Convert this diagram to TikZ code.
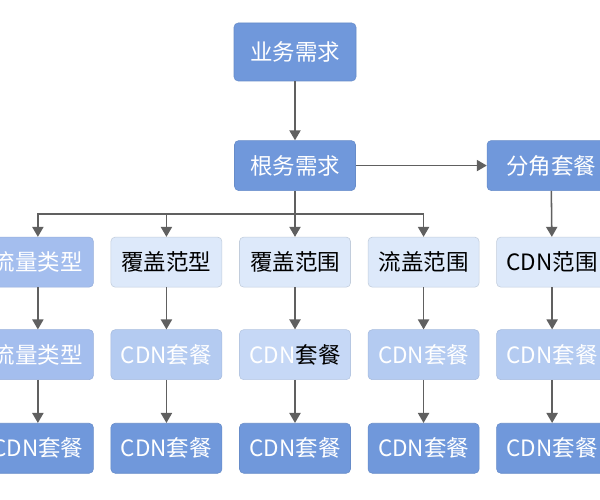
\documentclass[tikz,border=0pt]{standalone}
\usepackage{fontspec}
\newfontfamily\cjk{Noto Sans CJK SC}
\usetikzlibrary{arrows.meta,positioning,calc}

\definecolor{deepblue}{RGB}{112,152,219}
\definecolor{midblue}{RGB}{164,190,238}
\definecolor{softblue}{RGB}{180,203,241}
\definecolor{haze}{RGB}{198,216,246}
\definecolor{paleblue}{RGB}{221,233,250}
\definecolor{linegray}{RGB}{96,96,96}

\begin{document}
\begin{tikzpicture}[
  box/.style={rounded corners=3pt, align=center, minimum width=2.775cm, minimum height=1.25cm, inner sep=0pt, font=\cjk\fontsize{16}{19}\selectfont},
  dark/.style={box, fill=deepblue, draw=deepblue!92!black, text=white},
  mid/.style={box, fill=midblue, draw=midblue!92!black, text=white},
  soft/.style={box, fill=softblue, draw=softblue!92!black, text=white},
  hazy/.style={box, fill=haze, draw=haze!92!black, text=white},
  pale/.style={box, fill=paleblue, draw=paleblue!88!black, text=black},
  arr/.style={-{Triangle[length=2.5mm,width=2.8mm]}, line width=1.1pt, draw=linegray}
]
\fill[white] (0,0) rectangle (15,-12.5);
\useasboundingbox (0,0) rectangle (15,-12.5);

% top levels
\node[dark, minimum width=3.05cm, minimum height=1.45cm] (need) at (7.375,-1.3) {业务需求};
\node[dark, minimum width=3.025cm, below=1.475cm of need] (root) {根务需求};
\node[dark, minimum width=3.2cm, right=3.275cm of root] (pack) {分角套餐};

% second row
\node[pale, below=1.15cm of root] (t3) {覆盖范围};
\node[pale, left=0.425cm of t3] (t2) {覆盖范型};
\node[mid, left=0.425cm of t2] (t1) {流量类型};
\node[pale, right=0.425cm of t3] (t4) {流盖范围};
\node[pale, right=0.425cm of t4] (t5) {CDN范围};

% third row
\node[mid, below=1.05cm of t1] (m1) {流量类型};
\node[soft, below=1.05cm of t2] (m2) {CDN套餐};
\node[hazy, below=1.05cm of t3] (m3) {CDN\textcolor{black}{套餐}};
\node[soft, below=1.05cm of t4] (m4) {CDN套餐};
\node[soft, below=1.05cm of t5] (m5) {CDN套餐};

% bottom row
\node[dark, below=1.075cm of m1] (b1) {CDN套餐};
\node[dark, below=1.075cm of m2] (b2) {CDN套餐};
\node[dark, below=1.075cm of m3] (b3) {CDN套餐};
\node[dark, below=1.075cm of m4] (b4) {CDN套餐};
\node[dark, below=1.075cm of m5] (b5) {CDN套餐};

\coordinate (bus) at ($(root.south)!0.5!(t3.north)$);

\draw[arr] (need) -- (root);
\draw[arr] (root) -- (pack);
\draw[arr] (root) -- (t3);
\draw[arr] (bus) -| (t1.north);
\draw[arr] (bus) -| (t2.north);
\draw[arr] (bus) -| (t4.north);
\draw[arr] (pack) -- (t5);

\draw[arr] (t1) -- (m1);
\draw[arr] (t2) -- (m2);
\draw[arr] (t3) -- (m3);
\draw[arr] (t4) -- (m4);
\draw[arr] (t5) -- (m5);
\draw[arr] (m1) -- (b1);
\draw[arr] (m2) -- (b2);
\draw[arr] (m3) -- (b3);
\draw[arr] (m4) -- (b4);
\draw[arr] (m5) -- (b5);

\end{tikzpicture}
\end{document}
